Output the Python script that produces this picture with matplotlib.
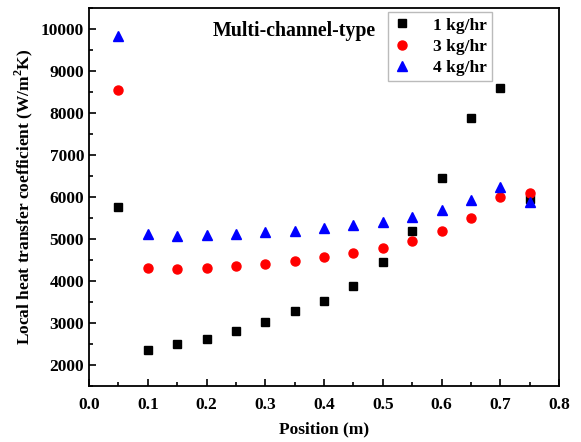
import matplotlib
matplotlib.use("Agg")
import matplotlib.pyplot as plt
from matplotlib.ticker import MultipleLocator

position = [0.05, 0.10, 0.15, 0.20, 0.25, 0.30, 0.35, 0.40, 0.45, 0.50, 0.55, 0.60, 0.65, 0.70, 0.75]
h_1kg = [5770, 2350, 2490, 2610, 2800, 3020, 3280, 3530, 3890, 4450, 5200, 6460, 7880, 8600, 5950]
h_3kg = [8550, 4300, 4280, 4310, 4360, 4410, 4480, 4560, 4670, 4790, 4950, 5190, 5510, 6000, 6100]
h_4kg = [9830, 5130, 5080, 5100, 5130, 5170, 5200, 5260, 5330, 5410, 5530, 5700, 5920, 6240, 5880]

plt.rcParams['font.family'] = ['Liberation Serif', 'DejaVu Serif']
plt.rcParams['font.weight'] = 'bold'
plt.rcParams['mathtext.fontset'] = 'custom'
plt.rcParams['mathtext.rm'] = 'Liberation Serif:bold'
plt.rcParams['mathtext.bf'] = 'Liberation Serif:bold'

fig = plt.figure(figsize=(5.81, 4.42), dpi=100)
ax = fig.add_axes([89/581, 1 - 386/442, 470/581, 378/442])

ax.plot(position, h_1kg, 's', color='black', markersize=6, label='1 kg/hr')
ax.plot(position, h_3kg, 'o', color='red', markersize=6.5, label='3 kg/hr')
ax.plot(position, h_4kg, '^', color='blue', markersize=7, label='4 kg/hr')

ax.set_xlim(0.0, 0.8)
ax.set_ylim(1500, 10500)
ax.xaxis.set_major_locator(MultipleLocator(0.1))
ax.xaxis.set_minor_locator(MultipleLocator(0.05))
ax.yaxis.set_minor_locator(MultipleLocator(500))
ax.set_yticks(range(2000, 10001, 1000))
ax.tick_params(which='both', direction='in', labelsize=12.5, width=1.2)
ax.tick_params(which='major', length=5)
ax.tick_params(which='minor', length=3)
ax.tick_params(axis='x', pad=8)
ax.xaxis.set_major_formatter(plt.FuncFormatter(lambda v, p: f'{v:.1f}'))
for s in ax.spines.values():
    s.set_linewidth(1.3)

ax.set_xlabel('Position (m)', fontsize=12.5, fontweight='bold', labelpad=6)
ax.set_ylabel('Local heat transfer coefficient (W/m$^2$K)', fontsize=12.5, fontweight='bold')

ax.text(0.263, 0.925, 'Multi-channel-type', transform=ax.transAxes, fontsize=14.3, fontweight='bold')

ax.legend(loc='upper right', bbox_to_anchor=(0.857, 0.989), fontsize=12.5, frameon=True,
          fancybox=False, edgecolor='#aaaaaa', handlelength=1.0, handletextpad=1.3,
          borderpad=0.3, labelspacing=0.3, borderaxespad=0)

plt.savefig('out.png', dpi=100)
